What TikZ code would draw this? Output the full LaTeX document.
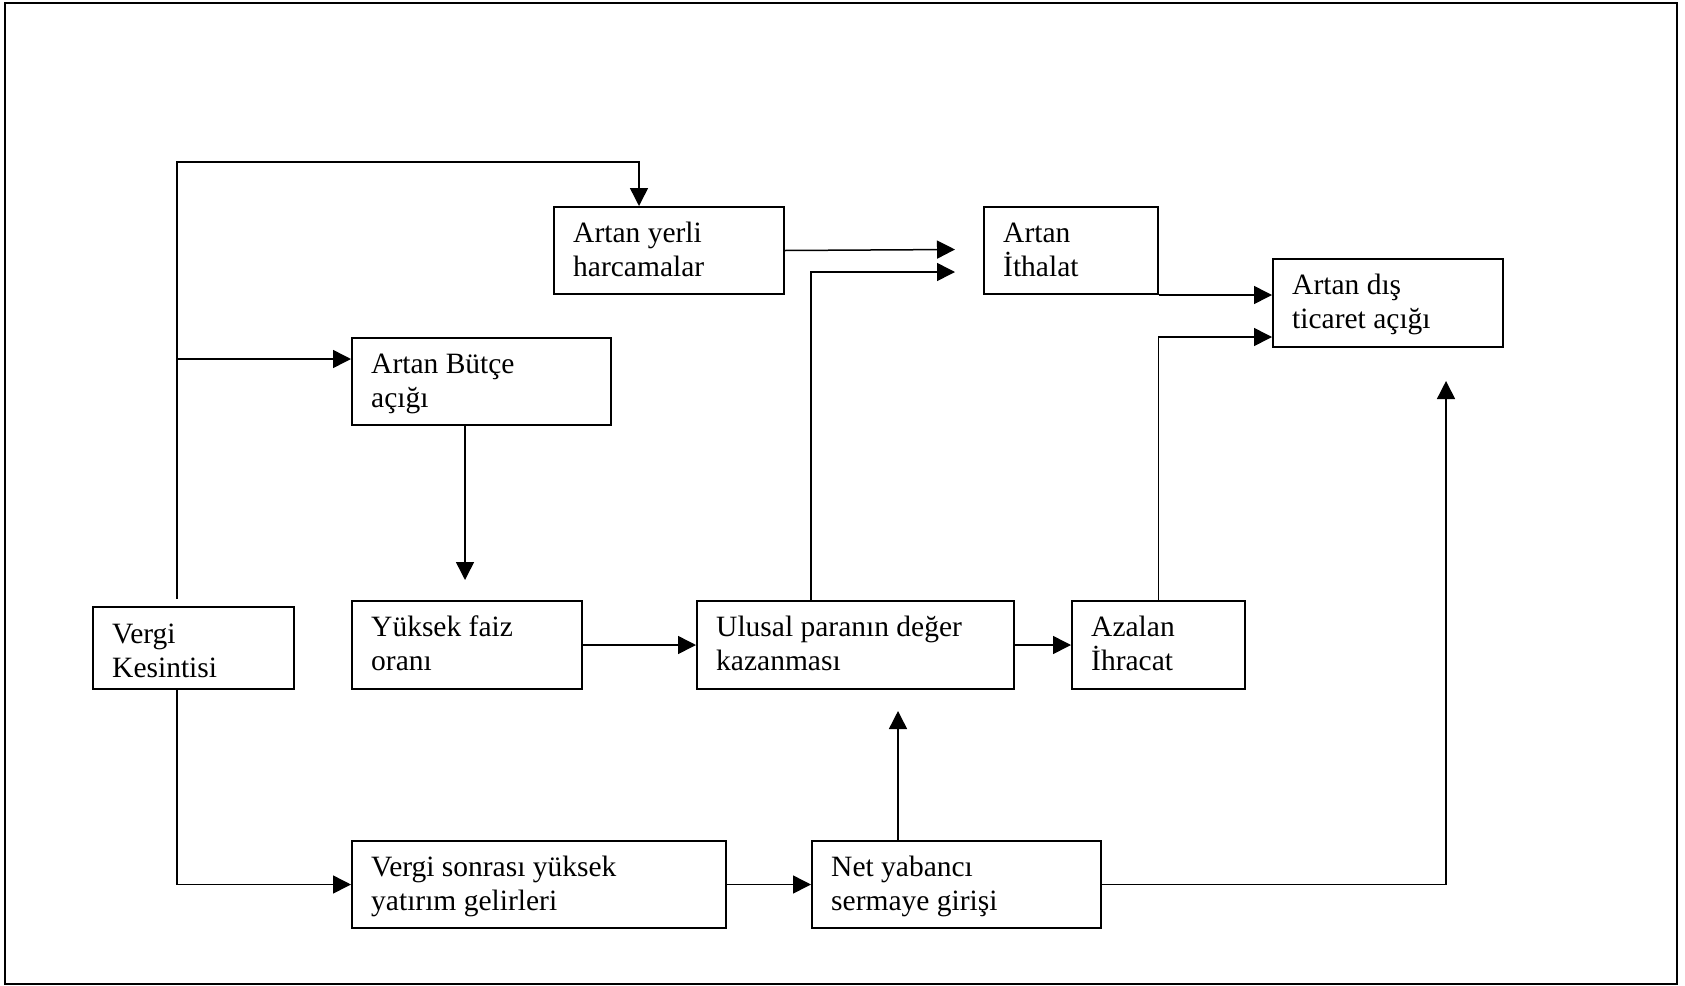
\documentclass[tikz,border=0pt]{standalone}
\usepackage{fontspec}
\setmainfont{Liberation Serif}
\usetikzlibrary{arrows.meta,calc}
\newcommand\twol[2]{\parbox[t]{420pt}{#1\\#2}}
\begin{document}
\begin{tikzpicture}[x=1pt,y=-1pt,
  box/.style={draw, line width=2pt, inner sep=0pt, anchor=north west},
  txt/.style={anchor=base west, inner sep=0pt, font=\fontsize{29.5pt}{34.4pt}\selectfont},
  conn/.style={line width=1.5pt},
  arr/.style={conn, -{Triangle[length=18pt,width=18pt]}}]
\useasboundingbox (0,0) rectangle (1685,985);
\node[box, minimum width=1672pt, minimum height=981pt] (frame) at (4,2) {};
% boxes
\node[box, minimum width=230pt, minimum height=87pt] (yerli) at (553,206) {};
\node[box, minimum width=174pt, minimum height=87pt] (ithalat) at (983,206) {};
\node[box, minimum width=230pt, minimum height=88pt] (dis) at (1272,258) {};
\node[box, minimum width=259pt, minimum height=87pt] (butce) at (351,337) {};
\node[box, minimum width=201pt, minimum height=82pt] (vergi) at (92,606) {};
\node[box, minimum width=230pt, minimum height=88pt] (yuksek) at (351,600) {};
\node[box, minimum width=317pt, minimum height=88pt] (ulusal) at (696,600) {};
\node[box, minimum width=173pt, minimum height=88pt] (azalan) at (1071,600) {};
\node[box, minimum width=374pt, minimum height=87pt] (vsonra) at (351,840) {};
\node[box, minimum width=289pt, minimum height=87pt] (net) at (811,840) {};
% texts
\node[txt] (t-yerli) at ($(yerli.north west)+(20,36.5)$) {\twol{Artan yerli}{harcamalar}};
\node[txt] (t-ithalat) at ($(ithalat.north west)+(20,36.5)$) {\twol{Artan}{İthalat}};
\node[txt] (t-dis) at ($(dis.north west)+(20,36.5)$) {\twol{Artan dış}{ticaret açığı}};
\node[txt] (t-butce) at ($(butce.north west)+(20,36.5)$) {\twol{Artan Bütçe}{açığı}};
\node[txt] (t-vergi) at ($(vergi.north west)+(20,37.5)$) {\twol{Vergi}{Kesintisi}};
\node[txt] (t-yuksek) at ($(yuksek.north west)+(20,36.5)$) {\twol{Yüksek faiz}{oranı}};
\node[txt] (t-ulusal) at ($(ulusal.north west)+(20,36.5)$) {\twol{Ulusal paranın değer}{kazanması}};
\node[txt] (t-azalan) at ($(azalan.north west)+(20,36.5)$) {\twol{Azalan}{İhracat}};
\node[txt] (t-vsonra) at ($(vsonra.north west)+(20,36.5)$) {\twol{Vergi sonrası yüksek}{yatırım gelirleri}};
\node[txt] (t-net) at ($(net.north west)+(20,36.5)$) {\twol{Net yabancı}{sermaye girişi}};
% coordinates
\coordinate (vUp) at (177,599);
\coordinate (topL) at (177,162);
\coordinate (yerliIn) at (639,206);
\coordinate (bL) at (177,359);
\coordinate (bDown) at (465,580);
\coordinate (uIn) at (898,711);
\coordinate (dIn) at (1446,381);
\coordinate (iIn1) at (955,249.5);
\coordinate (iIn2) at (955,272);
\coordinate (uUp) at (811,600);
\coordinate (dIn2) at (1272,337);
% connectors
\draw[arr] (vUp) -- (topL) -| (yerliIn);
\draw[arr] (bL) -- (bL -| butce.west);
\draw[arr] (vergi.south -| vUp) |- (vsonra.west);
\draw[arr] (butce.south -| bDown) -- (bDown);
\draw[arr] (yuksek.east) -- (ulusal.west);
\draw[arr] (ulusal.east) -- (azalan.west);
\draw[arr] (vsonra.east) -- (net.west);
\draw[arr] (net.north -| uIn) -- (uIn);
\draw[arr] (net.east) -| (dIn);
\draw[arr] (yerli.east) -- (iIn1);
\draw[arr] (uUp) |- (iIn2);
\draw[arr] (ithalat.south east) -- (ithalat.south east -| dis.west);
\draw[arr] (azalan.north) |- (dIn2);
\end{tikzpicture}
\end{document}
